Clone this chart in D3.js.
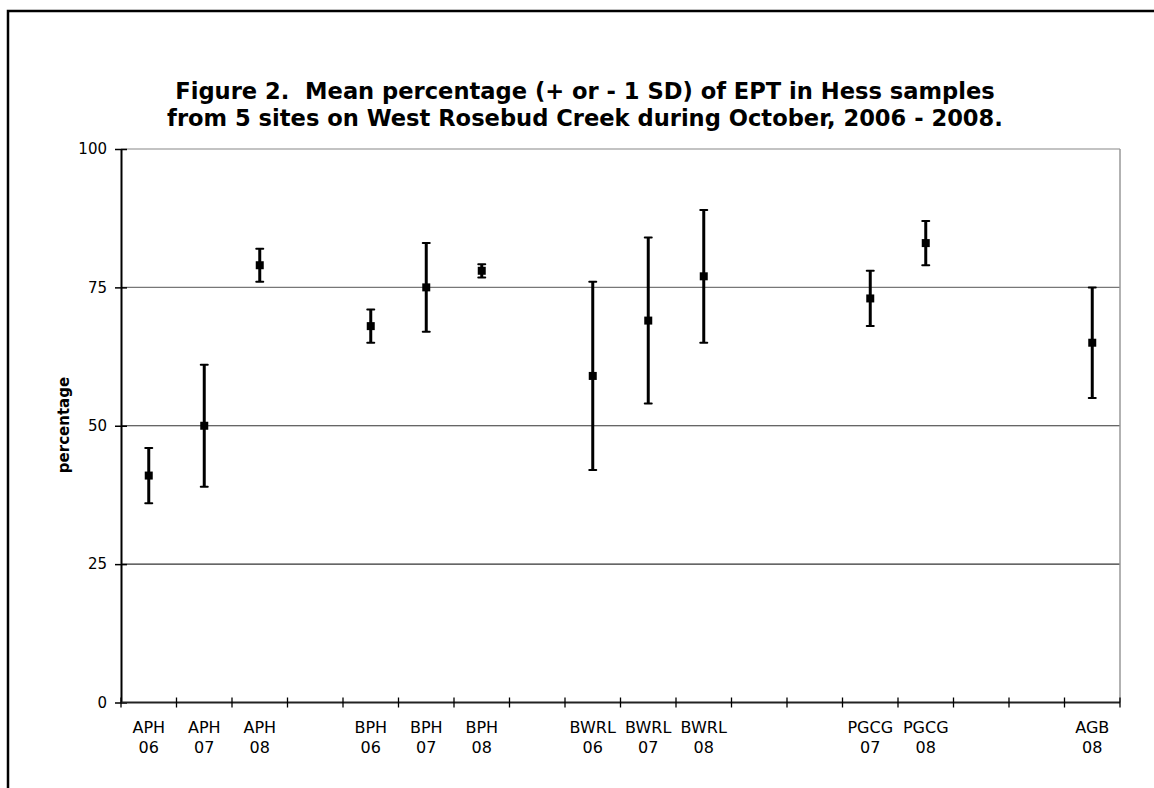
<!DOCTYPE html>
<html>
<head>
<meta charset="utf-8">
<script src="https://cdn.jsdelivr.net/npm/d3@7"></script>
<style>
  html, body { margin: 0; padding: 0; background: #fff; }
  svg { display: block; }
</style>
</head>
<body>
<svg id="chart" width="1154" height="788"></svg>
<script>
// Category slots along the x axis (blank slots separate the sites)
const categories = ["APH 06", "APH 07", "APH 08", "", "BPH 06", "BPH 07", "BPH 08", "",
  "BWRL 06", "BWRL 07", "BWRL 08", "", "", "PGCG 07", "PGCG 08", "", "", "AGB 08"];
// Mean percentage of EPT per sample (null where the slot is blank)
const means = [41, 50, 79, null, 68, 75, 78, null, 59, 69, 77, null, null, 73, 83, null, null, 65];
// One standard deviation around each mean
const sds = [5, 11, 3, null, 3, 8, 1.2, null, 17, 15, 12, null, null, 5, 4, null, null, 10];
const yTicks = [0, 25, 50, 75, 100];
const titleLines = [
  "Figure 2.  Mean percentage (+ or - 1 SD) of EPT in Hess samples",
  "from 5 sites on West Rosebud Creek during October, 2006 - 2008."
];
const yLabel = "percentage";

const svg = d3.select("#chart");
const font = "'DejaVu Sans', Verdana, sans-serif";

// Outer frame
svg.append("rect")
  .attr("x", 8).attr("y", 11)
  .attr("width", 1160).attr("height", 800)
  .attr("fill", "none").attr("stroke", "#000").attr("stroke-width", 2.5);

// Title
svg.append("g").selectAll("text").data(titleLines).join("text")
  .attr("x", 585).attr("y", (d, i) => 99 + i * 27)
  .attr("text-anchor", "middle")
  .attr("font-family", font).attr("font-weight", "bold").attr("font-size", 22.6)
  .style("white-space", "pre")
  .text(d => d);

const plotLeft = 121, plotRight = 1120, plotTop = 149, plotBottom = 702.5;

const x = d3.scaleBand().domain(d3.range(categories.length)).range([plotLeft, plotRight]).padding(0);
const y = d3.scaleLinear().domain([0, 100]).range([plotBottom, plotTop]);

// Horizontal gridlines
svg.append("g").selectAll("line").data(yTicks.filter(t => t > 0)).join("line")
  .attr("x1", plotLeft).attr("x2", plotRight)
  .attr("y1", d => y(d)).attr("y2", d => y(d))
  .attr("stroke", d => d === 100 ? "#888" : d === 75 ? "#777" : "#333").attr("stroke-width", 1.2);

// Right edge of the plot area
svg.append("line")
  .attr("x1", plotRight).attr("x2", plotRight).attr("y1", plotTop).attr("y2", plotBottom)
  .attr("stroke", "#999").attr("stroke-width", 1.5);

// Y axis
const yAxis = svg.append("g").attr("transform", `translate(${plotLeft},0)`)
  .call(d3.axisLeft(y).tickValues(yTicks).tickSizeInner(6).tickSizeOuter(0).tickPadding(8));
yAxis.select(".domain").attr("stroke", "#000").attr("stroke-width", 2);
yAxis.selectAll(".tick line").attr("x2", 6).attr("x1", -6).attr("stroke", "#000").attr("stroke-width", 1.5);
yAxis.selectAll(".tick text").attr("x", -14).attr("font-family", font).attr("font-size", 15).attr("fill", "#000");

// X axis with tick marks at slot boundaries
const boundaries = d3.range(categories.length + 1).map(i => plotLeft + i * x.bandwidth());
svg.append("line")
  .attr("x1", plotLeft).attr("x2", plotRight).attr("y1", plotBottom).attr("y2", plotBottom)
  .attr("stroke", "#222").attr("stroke-width", 2);
svg.append("g").selectAll("line").data(boundaries).join("line")
  .attr("x1", d => d).attr("x2", d => d)
  .attr("y1", plotBottom - 5).attr("y2", plotBottom + 5)
  .attr("stroke", "#000").attr("stroke-width", 1.3);

// Two-line category labels
const labelG = svg.append("g").selectAll("text")
  .data(categories.map((c, i) => ({ c, i })).filter(d => d.c))
  .join("text")
  .attr("text-anchor", "middle")
  .attr("font-family", font).attr("font-size", 16).attr("fill", "#000");
labelG.each(function (d) {
  const parts = d.c.split(" ");
  const t = d3.select(this);
  parts.forEach((p, k) => {
    t.append("tspan")
      .attr("x", x(d.i) + x.bandwidth() / 2)
      .attr("y", 733 + k * 20)
      .text(p);
  });
});

// Y axis title
svg.append("text")
  .attr("transform", `translate(69,425) rotate(-90)`)
  .attr("text-anchor", "middle")
  .attr("font-family", font).attr("font-weight", "bold").attr("font-size", 15)
  .text(yLabel);

// Error bars and mean markers
const pts = means.map((m, i) => ({ i, m, s: sds[i] })).filter(d => d.m !== null);
const marks = svg.append("g").selectAll("g").data(pts).join("g")
  .attr("transform", d => `translate(${x(d.i) + x.bandwidth() / 2},0)`);
marks.append("line")
  .attr("y1", d => y(d.m + d.s)).attr("y2", d => y(d.m - d.s))
  .attr("stroke", "#000").attr("stroke-width", 3);
marks.selectAll("line.cap").data(d => [d.m + d.s, d.m - d.s]).join("line")
  .attr("class", "cap")
  .attr("x1", -3.5).attr("x2", 3.5)
  .attr("y1", v => y(v)).attr("y2", v => y(v))
  .attr("stroke", "#000").attr("stroke-width", 2).attr("stroke-linecap", "round");
marks.append("rect")
  .attr("x", -4).attr("y", d => y(d.m) - 4)
  .attr("width", 8).attr("height", 8)
  .attr("fill", "#000");
</script>
</body>
</html>
